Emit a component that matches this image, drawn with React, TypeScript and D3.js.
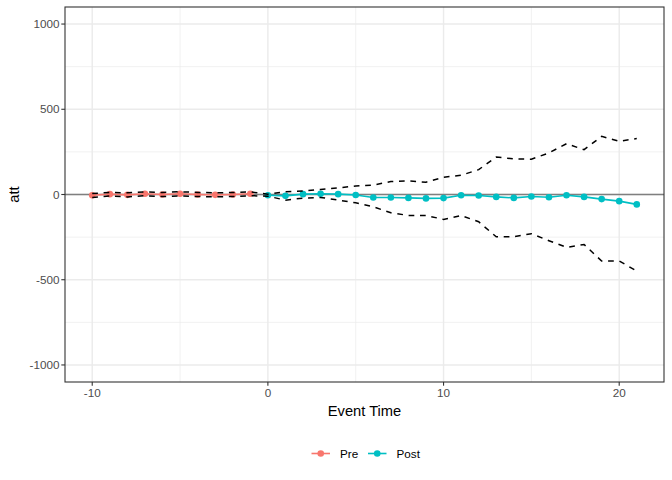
import React from "react";
import * as d3 from "d3";

const preTimes = [-10, -9, -8, -7, -6, -5, -4, -3, -2, -1];
const preAtt = [-4, 2, -2, 4, 0, 4, 0, -2, 0, 4];
const preUpper = [6, 12, 10, 15, 12, 16, 12, 10, 12, 15];
const preLower = [-18, -9, -14, -7, -12, -8, -12, -14, -12, -7];

const postTimes = [0, 1, 2, 3, 4, 5, 6, 7, 8, 9, 10, 11, 12, 13, 14, 15, 16, 17, 18, 19, 20, 21];
const postAtt = [-4, -8, 2, 4, 2, -3, -18, -18, -20, -23, -21, -4, -6, -14, -20, -12, -16, -4, -14, -27, -39, -58];
const postUpper = [2, 16, 21, 29, 39, 50, 55, 76, 80, 72, 101, 113, 146, 220, 209, 207, 244, 298, 263, 341, 312, 328];
const postLower = [-10, -33, -21, -17, -33, -49, -72, -107, -123, -123, -146, -123, -160, -248, -248, -230, -271, -310, -293, -390, -390, -449];

const xTicks = [-10, 0, 10, 20];
const xMinor = [-5, 5, 15];
const yTicks = [-1000, -500, 0, 500, 1000];
const yMinor = [-750, -250, 250, 750];

const seriesNames = ["Pre", "Post"];
const seriesColors = ["#F8766D", "#00BFC4"];

const W = 672;
const H = 480;
const panel = { left: 65, right: 664, top: 7, bottom: 382 };
const FONT = "'Liberation Sans', Arial, sans-serif";

export default function App() {
  const x = d3.scaleLinear().domain([-11.55, 22.55]).range([panel.left, panel.right]);
  const y = d3.scaleLinear().domain([-1100, 1100]).range([panel.bottom, panel.top]);

  const allTimes = [...preTimes, ...postTimes];
  const allUpper = [...preUpper, ...postUpper];
  const allLower = [...preLower, ...postLower];

  const line = d3
    .line<[number, number]>()
    .x((d) => x(d[0]))
    .y((d) => y(d[1]));

  const upperPts: [number, number][] = allTimes.map((t, i) => [t, allUpper[i]]);
  const lowerPts: [number, number][] = allTimes.map((t, i) => [t, allLower[i]]);
  const prePts: [number, number][] = preTimes.map((t, i) => [t, preAtt[i]]);
  const postPts: [number, number][] = postTimes.map((t, i) => [t, postAtt[i]]);

  const pw = panel.right - panel.left;
  const ph = panel.bottom - panel.top;

  return (
    <div style={{ position: "fixed", left: 0, top: 0 }}>
      <svg width={W} height={H} style={{ display: "block", background: "#fff" }} fontFamily={FONT}>
        <rect x={0} y={0} width={W} height={H} fill="#fff" />
        <defs>
          <clipPath id="pclip">
            <rect x={panel.left} y={panel.top} width={pw} height={ph} />
          </clipPath>
        </defs>
        {/* minor grid */}
        {yMinor.map((v) => (
          <line key={"ym" + v} x1={panel.left} x2={panel.right} y1={y(v)} y2={y(v)} stroke="#EBEBEB" strokeWidth={0.7} />
        ))}
        {xMinor.map((v) => (
          <line key={"xm" + v} x1={x(v)} x2={x(v)} y1={panel.top} y2={panel.bottom} stroke="#EBEBEB" strokeWidth={0.7} />
        ))}
        {/* major grid */}
        {yTicks.map((v) => (
          <line key={"yg" + v} x1={panel.left} x2={panel.right} y1={y(v)} y2={y(v)} stroke="#EBEBEB" strokeWidth={1.4} />
        ))}
        {xTicks.map((v) => (
          <line key={"xg" + v} x1={x(v)} x2={x(v)} y1={panel.top} y2={panel.bottom} stroke="#EBEBEB" strokeWidth={1.4} />
        ))}
        <g clipPath="url(#pclip)">
          {/* zero hline */}
          <line x1={panel.left} x2={panel.right} y1={y(0)} y2={y(0)} stroke="#7F7F7F" strokeWidth={1.4} />
          {/* series lines */}
          <path d={line(prePts) || ""} fill="none" stroke={seriesColors[0]} strokeWidth={1.6} />
          <path d={line(postPts) || ""} fill="none" stroke={seriesColors[1]} strokeWidth={1.6} />
          {prePts.map((p, i) => (
            <circle key={"pp" + i} cx={x(p[0])} cy={y(p[1])} r={3.3} fill={seriesColors[0]} />
          ))}
          {postPts.map((p, i) => (
            <circle key={"po" + i} cx={x(p[0])} cy={y(p[1])} r={3.3} fill={seriesColors[1]} />
          ))}
          {/* confidence bands */}
          <path d={line(upperPts) || ""} fill="none" stroke="#000" strokeWidth={1.5} strokeDasharray="5.7,5.7" />
          <path d={line(lowerPts) || ""} fill="none" stroke="#000" strokeWidth={1.5} strokeDasharray="5.7,5.7" />
        </g>
        {/* panel border */}
        <rect x={panel.left} y={panel.top} width={pw} height={ph} fill="none" stroke="#333333" strokeWidth={1.1} />
        {/* y axis ticks */}
        {yTicks.map((v) => (
          <g key={"yt" + v}>
            <line x1={panel.left - 3.7} x2={panel.left} y1={y(v)} y2={y(v)} stroke="#333333" strokeWidth={1.1} />
            <text x={panel.left - 5.5} y={y(v)} dy="0.35em" textAnchor="end" fontSize={11.7} fill="#4D4D4D">
              {v}
            </text>
          </g>
        ))}
        {/* x axis ticks */}
        {xTicks.map((v) => (
          <g key={"xt" + v}>
            <line x1={x(v)} x2={x(v)} y1={panel.bottom} y2={panel.bottom + 3.7} stroke="#333333" strokeWidth={1.1} />
            <text x={x(v)} y={panel.bottom + 15} textAnchor="middle" fontSize={11.7} fill="#4D4D4D">
              {v}
            </text>
          </g>
        ))}
        {/* axis titles */}
        <text x={(panel.left + panel.right) / 2} y={416} textAnchor="middle" fontSize={14.7} fill="#000">
          Event Time
        </text>
        <text transform={`translate(19,${(panel.top + panel.bottom) / 2}) rotate(-90)`} textAnchor="middle" fontSize={14.7} fill="#000">
          att
        </text>
        {/* legend */}
        {seriesNames.map((name, i) => {
          const kx = i === 0 ? 311.5 : 368;
          const ky = 453.5;
          return (
            <g key={"lg" + name}>
              <line x1={kx} x2={kx + 18.5} y1={ky} y2={ky} stroke={seriesColors[i]} strokeWidth={1.6} />
              <circle cx={kx + 9.25} cy={ky} r={3.3} fill={seriesColors[i]} />
              <text x={kx + 28.5} y={ky} dy="0.35em" fontSize={11.7} fill="#000">
                {name}
              </text>
            </g>
          );
        })}
      </svg>
    </div>
  );
}
